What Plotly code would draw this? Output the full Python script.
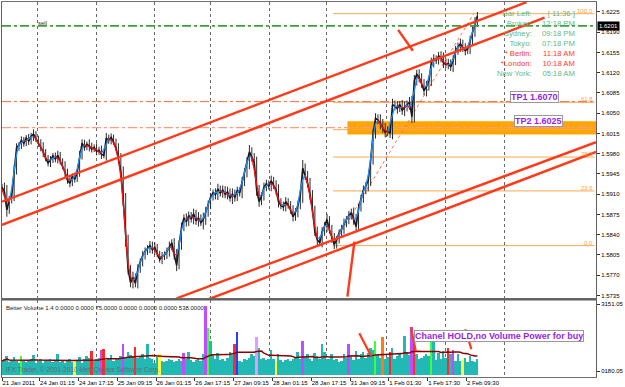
import numpy as np
import pandas as pd
import plotly.graph_objects as go

# ---------------- data ----------------
# hourly closes, 21 Jan 2011 .. 2 Feb 2011
close = [
 1.5922, 1.5914, 1.5883, 1.5900, 1.5907, 1.5952, 1.5990, 1.5995, 1.6003, 1.5998,
 1.6007, 1.6002, 1.6010, 1.6014, 1.6005, 1.5998, 1.5991, 1.5983, 1.5972, 1.5964,
 1.5969, 1.5976, 1.5971, 1.5977, 1.5967, 1.5958, 1.5948, 1.5934, 1.5929, 1.5941,
 1.5936, 1.5948, 1.5977, 1.5998, 1.5991, 1.5996, 1.5993, 1.5988, 1.5991, 1.5984,
 1.5986, 1.5979, 1.5977, 1.6007, 1.6003, 1.6008, 1.6000, 1.5990, 1.5972, 1.5948,
 1.5900, 1.5831, 1.5780, 1.5757, 1.5766, 1.5756, 1.5780, 1.5793, 1.5804, 1.5811,
 1.5816, 1.5821, 1.5814, 1.5818, 1.5807, 1.5797, 1.5802, 1.5805, 1.5811, 1.5819,
 1.5826, 1.5805, 1.5787, 1.5823, 1.5852, 1.5869, 1.5862, 1.5873, 1.5867, 1.5876,
 1.5864, 1.5869, 1.5861, 1.5866, 1.5879, 1.5891, 1.5905, 1.5912, 1.5909, 1.5919,
 1.5912, 1.5917, 1.5910, 1.5914, 1.5903, 1.5910, 1.5905, 1.5916, 1.5912, 1.5931,
 1.5948, 1.5965, 1.5983, 1.5974, 1.5965, 1.5917, 1.5897, 1.5907, 1.5922, 1.5928,
 1.5924, 1.5933, 1.5926, 1.5917, 1.5897, 1.5890, 1.5888, 1.5897, 1.5891, 1.5883,
 1.5871, 1.5879, 1.5890, 1.5909, 1.5955, 1.5943, 1.5929, 1.5909, 1.5883, 1.5845,
 1.5831, 1.5826, 1.5845, 1.5855, 1.5866, 1.5848, 1.5835, 1.5823, 1.5831, 1.5843,
 1.5850, 1.5859, 1.5866, 1.5873, 1.5878, 1.5866, 1.5854, 1.5886, 1.5903, 1.5917,
 1.5924, 1.5934, 1.5969, 1.6015, 1.6041, 1.6038, 1.6032, 1.6024, 1.6017, 1.6020,
 1.6015, 1.6065, 1.6062, 1.6058, 1.6065, 1.6055, 1.6060, 1.6065, 1.6069, 1.6044,
 1.6106, 1.6117, 1.6112, 1.6101, 1.6089, 1.6096, 1.6106, 1.6137, 1.6144, 1.6141,
 1.6149, 1.6146, 1.6137, 1.6134, 1.6136, 1.6130, 1.6141, 1.6158, 1.6165, 1.6170,
 1.6163, 1.6158, 1.6161, 1.6175, 1.6192, 1.6206, 1.6218,
]
# extra wick length of each hourly bar beyond its open/close, in pips
wick_pips = [
 6, 8, 12, 7, 6, 9, 8, 5, 7, 6,   5, 7, 6, 8, 5, 6, 7, 9, 5, 6,
 7, 5, 6, 8, 6, 5, 9, 6, 7, 5,    6, 5, 8, 7, 6, 5, 9, 6, 5, 7,
 6, 8, 5, 9, 6, 7, 5, 6, 8, 9,    10, 12, 9, 8, 10, 7, 9, 6, 8, 7,
 6, 8, 7, 9, 6, 5, 8, 6, 7, 9,    6, 8, 10, 7, 9, 6, 8, 7, 6, 9,
 7, 10, 6, 12, 9, 8, 7, 6, 8, 9,  6, 8, 7, 9, 6, 10, 8, 7, 6, 9,
 7, 9, 12, 8, 7, 10, 9, 6, 8, 7,  6, 9, 7, 8, 10, 6, 7, 8, 6, 7,
 8, 7, 9, 6, 14, 8, 7, 9, 8, 7,   9, 6, 8, 7, 10, 6, 9, 8, 7, 6,
 7, 9, 6, 8, 7, 9, 10, 7, 6, 8,   7, 9, 10, 8, 9, 7, 10, 8, 9, 7,
 8, 10, 7, 9, 6, 8, 10, 7, 9, 11, 10, 8, 9, 7, 8, 10, 7, 9, 8, 6,
 7, 8, 9, 6, 8, 7, 9, 8, 7, 9,    7, 8, 6, 9, 8, 10, 7,
]

volume = [
 620, 700, 820, 560, 650, 780, 600, 540, 840, 610,
 580, 650, 720, 890, 540, 600, 680, 520, 640, 590,
 700, 560, 620, 930, 580, 650, 540, 600, 720, 560,
 610, 660, 800, 540, 700, 820, 760, 1060, 620, 680,
 760, 1100, 1150, 640, 680, 860, 620, 760, 700, 820,
 1370, 780, 1000, 880, 820, 1240, 760, 840, 900, 720,
 1370, 760, 680, 540, 780, 900, 620, 560, 600, 720,
 640, 560, 600, 700, 620, 970, 720, 1000, 640, 560,
 660, 720, 620, 900, 3050, 2100, 1500, 900, 720, 980,
 640, 700, 620, 760, 1000, 860, 1370, 1900, 620, 560,
 700, 640, 760, 900, 820, 1680, 1200, 680, 760, 640,
 720, 1100, 680, 620, 900, 640, 560, 640, 720, 620,
 680, 760, 1000, 700, 1500, 800, 900, 720, 620, 980,
 840, 700, 1370, 1000, 680, 720, 900, 640, 720, 580,
 620, 900, 760, 1370, 820, 640, 1040, 720, 900, 1000,
 760, 960, 1200, 1100, 1500, 860, 760, 1680, 720, 800,
 1000, 1200, 680, 820, 900, 760, 1730, 1000, 860, 2130,
 1370, 900, 700, 760, 820, 900, 820, 1500, 1500, 640,
 980, 720, 1060, 760, 1200, 900, 1100, 620, 900, 620,
 640, 760, 580, 820, 600, 560, 720,
]
# Better Volume bar classes (others are normal)
vol_class = {8: 'g', 30: 'l', 37: 'c', 41: 'm', 42: 'c', 50: 'm', 55: 'c', 65: 'l',
             75: 'm', 84: 'm', 85: 'g', 96: 'c', 97: 'b', 105: 'v', 113: 'l',
             124: 'm', 143: 'm', 154: 'g', 157: 'o', 160: 'c', 169: 'm', 170: 'c',
             177: 'g', 184: 'c', 186: 'm', 190: 'l'}

price_ticks = [1.5735, 1.5770, 1.5805, 1.5840, 1.5875, 1.5910, 1.5945, 1.5980,
               1.6015, 1.6050, 1.6085, 1.6120, 1.6155, 1.6190, 1.6225]
x_label_hours = [0, 15.5, 31.5, 47.5, 63.5, 79.5, 95.5, 111.5, 127.5, 143.5, 159.5, 175.5, 191.5]
x_labels = ["21 Jan 2011", "24 Jan 01:15", "24 Jan 17:15", "25 Jan 09:15", "26 Jan 01:15",
            "26 Jan 17:15", "27 Jan 09:15", "28 Jan 01:15", "28 Jan 17:15", "31 Jan 09:15",
            "1 Feb 01:30", "1 Feb 17:30", "2 Feb 09:30"]
grid_hours = [14.7, 38.8, 62.9, 86.1, 110.2, 133.9, 158.4, 182.9, 207.3]
vol_ticks = [3151.05, 180.05]
vol_tick_text = ["3151.05", "0180.05"]

# drawn objects (hour, price)
chan_upper_a = [(0, 1.5897), (216.3, 1.6242)]
chan_upper_b = [(0, 1.5857), (223.7, 1.6215)]
chan_lower_a = [(72.0, 1.5730), (244.9, 1.6000)]
chan_lower_b = [(84.9, 1.5728), (244.9, 1.5983)]
arrow_lines = [[(163.3, 1.6194), (169.4, 1.6158)], [(142.4, 1.5733), (145.3, 1.5828)]]
vol_arrow_lines = [[(147.3, 1865), (152.2, 845)], [(168.6, 2131), (170.6, 1067)],
                   [(191.0, 2042), (193.5, 1155)]]
fib_low, fib_high = 1.5821, 1.6222
fib_start_hour, fib_end_hour = 136.5, 194.5
fib_ratios = [0.0, 23.6, 38.2, 50.0, 61.8, 100.0]
tp1, tp2, current_price = 1.6070, 1.6025, 1.6201
zone_start_hour, zone_top, zone_bottom = 142.4, 1.6036, 1.6013

clock_labels = ["Bar Left:", "Broker:", "Sydney:", "Tokyo:", "* Berlin:", "*London:", "New York:"]
clock_values = ["[ 11:36 ]", "12:18 PM", "09:18 PM", "07:18 PM", "11:18 AM", "10:18 AM", "05:18 AM"]
clock_colors = ["#62b985", "#62b985", "#62b985", "#62b985", "#ff3b30", "#ff3b30", "#62b985"]

# ---------------- layout geometry ----------------
W, H = 625, 387
ML, MR, MT, MB = 2, 23, 1, 9
X_RANGE = [0, 244.9]
PRICE_RANGE = [1.57298, 1.62422]
VOL_RANGE = [-86, 3328]
PLOT_H = H - MT - MB
PIP = 0.0001


def ppy(py):  # pixel row -> paper y
    return (H - MB - py) / PLOT_H


def pxh(px):  # pixel column -> hour
    return (px - ML) / (W - ML - MR) * X_RANGE[1]


FONT = "Liberation Sans"
RED = "#ff3a1a"
hours = list(range(len(close)))

fig = go.Figure()

# orange zone
fig.add_shape(type="rect", xref="x", yref="y", x0=zone_start_hour, x1=X_RANGE[1],
              y0=zone_bottom, y1=zone_top, fillcolor="#ffa500", line_width=0, layer="between")

# fib levels
fib_prices = [fib_low + r / 100 * (fib_high - fib_low) for r in fib_ratios]
for r, p in zip(fib_ratios, fib_prices):
    fig.add_trace(go.Scatter(x=[fib_start_hour, X_RANGE[1] - 0.6], y=[p, p], mode="lines",
                             line=dict(color="#ffa64d", width=1), hoverinfo="skip"))
fig.add_trace(go.Scatter(x=[fib_start_hour, fib_end_hour], y=[fib_low, fib_high], mode="lines",
                         line=dict(color="#ff6a4a", width=1, dash="dot"), hoverinfo="skip"))

# horizontal lines
fig.add_trace(go.Scatter(x=X_RANGE, y=[tp2, tp2], mode="lines",
                         line=dict(color="#ff9b80", width=1.3, dash="dashdot"), hoverinfo="skip"))
fig.add_trace(go.Scatter(x=X_RANGE, y=[tp1, tp1], mode="lines",
                         line=dict(color="#ff6a3a", width=1, dash="dashdot"), hoverinfo="skip"))

# price bars (wicks) and close line
wx, wy = [], []
for i, c in enumerate(close):
    o = close[i - 1] if i > 0 else c
    wx += [hours[i], hours[i], None]
    wy += [max(o, c) + wick_pips[i] * PIP, min(o, c) - wick_pips[i] * PIP, None]
fig.add_trace(go.Scatter(x=wx, y=wy, mode="lines", line=dict(color="#2a2a2a", width=1),
                         hoverinfo="skip"))
fig.add_trace(go.Scatter(x=hours, y=close, mode="lines", line=dict(color="#1a1a1a", width=1.6),
                         hoverinfo="skip"))
ma = pd.Series(close).rolling(3, center=True, min_periods=1).mean().tolist()
up_x, up_y, dn_x, dn_y = [], [], [], []
for i in range(len(ma) - 1):
    if ma[i + 1] >= ma[i]:
        up_x += [hours[i], hours[i + 1], None]
        up_y += [ma[i], ma[i + 1], None]
    else:
        dn_x += [hours[i], hours[i + 1], None]
        dn_y += [ma[i], ma[i + 1], None]
fig.add_trace(go.Scatter(x=up_x, y=up_y, mode="lines", line=dict(color="#1e8fff", width=1.3),
                         hoverinfo="skip"))
fig.add_trace(go.Scatter(x=dn_x, y=dn_y, mode="lines", line=dict(color="#ff1010", width=1.3),
                         hoverinfo="skip"))

# current price line
fig.add_trace(go.Scatter(x=X_RANGE, y=[current_price, current_price], mode="lines",
                         line=dict(color="#3c9f3c", width=1.6, dash="dashdot"), hoverinfo="skip"))

# channels and arrows
for seg in [chan_upper_a, chan_upper_b, chan_lower_a, chan_lower_b] + arrow_lines:
    fig.add_trace(go.Scatter(x=[seg[0][0], seg[1][0]], y=[seg[0][1], seg[1][1]], mode="lines",
                             line=dict(color=RED, width=2.4), hoverinfo="skip"))

# volume
class_colors = {'n': "#22b8b4", 'c': "#ff2a2a", 'g': "#3cff3c", 'm': "#c04cff",
                'b': "#2a3cff", 'v': "#e09cff", 'o': "#ff7a1a", 'l': "#ffff40"}
vcols = [class_colors[vol_class.get(i, 'n')] for i in range(len(volume))]
fig.add_trace(go.Bar(x=hours, y=volume, width=0.8, marker=dict(color=vcols, line_width=0),
                     xaxis="x2", yaxis="y2", hoverinfo="skip"))
vma = pd.Series(volume).rolling(24, min_periods=1).mean().tolist()
fig.add_trace(go.Scatter(x=hours, y=vma, mode="lines", line=dict(color="#8b0000", width=1.5),
                         xaxis="x2", yaxis="y2", hoverinfo="skip"))
for seg in vol_arrow_lines:
    fig.add_trace(go.Scatter(x=[seg[0][0], seg[1][0]], y=[seg[0][1], seg[1][1]], mode="lines",
                             line=dict(color=RED, width=2.2), xaxis="x2", yaxis="y2",
                             hoverinfo="skip"))

# invisible trace to activate label axis
fig.add_trace(go.Scatter(x=[None], y=[None], xaxis="x3", yaxis="y2", showlegend=False))

ann = []
# fib labels
for r, p in zip(fib_ratios, fib_prices):
    ann.append(dict(x=X_RANGE[1] - 0.4, y=p, xref="x", yref="y", text=f"{r:.1f}", showarrow=False,
                    xanchor="right", yanchor="bottom", yshift=-2,
                    font=dict(family=FONT, size=6, color="#ff9f40")))
# clock (two right-aligned columns)
lab_txt = "<br>".join(f"<span style='color:{c}'>{t}</span>" for t, c in zip(clock_labels, clock_colors))
val_txt = "<br>".join(f"<span style='color:{c}'>{t}</span>" for t, c in zip(clock_values, clock_colors))
for txt, px in [(lab_txt, 538), (val_txt, 582)]:
    ann.append(dict(x=pxh(px), y=ppy(7.5), xref="x", yref="paper", text=txt, showarrow=False,
                    xanchor="right", yanchor="top", align="right", borderpad=0,
                    font=dict(family=FONT, size=7.7, color="#62b985")))
# TP boxes
for txt, cx, cy in [("TP1 1.6070", 540, 97), ("TP2 1.6025", 544, 120.5),
                    ("Chanel HOLD,no Volume Power for buy", 504, 337)]:
    ann.append(dict(x=pxh(cx), y=ppy(cy), xref="x", yref="paper", text=f"<b>{txt}</b>",
                    showarrow=False, xanchor="center", yanchor="middle", bgcolor="white",
                    bordercolor="#9a9a9a", borderwidth=1, borderpad=0,
                    font=dict(family=FONT, size=9, color="#9a1ee6")))
# current price box
ann.append(dict(x=1, y=current_price, xref="paper", yref="y", text="1.6201", showarrow=False,
                xanchor="left", yanchor="middle", xshift=1, bgcolor="#000000", borderpad=1,
                font=dict(family=FONT, size=6, color="white")))
# texts
ann.append(dict(x=pxh(36), y=ppy(22), xref="x", yref="paper", text="sell", showarrow=False,
                xanchor="left", yanchor="middle", font=dict(family=FONT, size=6, color="#333333")))
ann.append(dict(x=pxh(4), y=ppy(309), xref="x", yref="paper",
                text="Better Volume 1.4 0.0000 0.0000 75.0000 0.0000 0.0000 0.0000 538.0000",
                showarrow=False, xanchor="left", yanchor="middle",
                font=dict(family=FONT, size=6, color="#222222")))
ann.append(dict(x=pxh(4), y=ppy(371), xref="x", yref="paper",
                text="IFX Trader, © 2001-2010 MetaQuotes Software Corp.",
                showarrow=False, xanchor="left", yanchor="middle",
                font=dict(family=FONT, size=6.5, color="#6a6a6a")))

main_dom = [ppy(299), 1]
vol_dom = [0, ppy(301)]
axis_common = dict(range=X_RANGE, showgrid=True, gridcolor="#6a6a6a", griddash="dot", gridwidth=1,
                   tickvals=grid_hours, showticklabels=False, ticks="", zeroline=False,
                   showline=True, mirror=True, linecolor="#707070", linewidth=1, fixedrange=True)
fig.update_layout(
    width=W, height=H, autosize=False, showlegend=False,
    margin=dict(l=ML, r=MR, t=MT, b=MB, pad=0),
    paper_bgcolor="white", plot_bgcolor="white",
    font=dict(family=FONT, size=6, color="black"),
    annotations=ann,
    xaxis=dict(anchor="y", domain=[0, 1], **axis_common),
    xaxis2=dict(anchor="y2", domain=[0, 1], **axis_common),
    xaxis3=dict(anchor="y2", overlaying="x2", side="bottom", range=X_RANGE, tickvals=x_label_hours,
                ticktext=x_labels, ticks="outside", ticklen=3, tickcolor="#333333", tickangle=0,
                ticklabelposition="outside right", showgrid=False, zeroline=False, showline=False,
                tickfont=dict(family=FONT, size=6, color="black")),
    yaxis=dict(domain=main_dom, range=PRICE_RANGE, side="right", tickvals=price_ticks,
               ticktext=[f"{v:.4f}" for v in price_ticks], ticks="outside", ticklen=3,
               tickcolor="#333333", showgrid=False, zeroline=False, showline=True, mirror=True,
               linecolor="#606060", linewidth=1, tickfont=dict(family=FONT, size=6, color="black")),
    yaxis2=dict(domain=vol_dom, range=VOL_RANGE, side="right", tickvals=vol_ticks,
                ticktext=vol_tick_text, ticks="outside", ticklen=3, tickcolor="#333333",
                showgrid=False, zeroline=False, showline=True, mirror=True, linecolor="#606060",
                linewidth=1, tickfont=dict(family=FONT, size=6, color="black")),
    bargap=0,
)
# panel separator
fig.add_shape(type="line", xref="paper", yref="paper", x0=0, x1=1, y0=ppy(300), y1=ppy(300),
              line=dict(color="#606060", width=2))

fig.write_html("out.html")
